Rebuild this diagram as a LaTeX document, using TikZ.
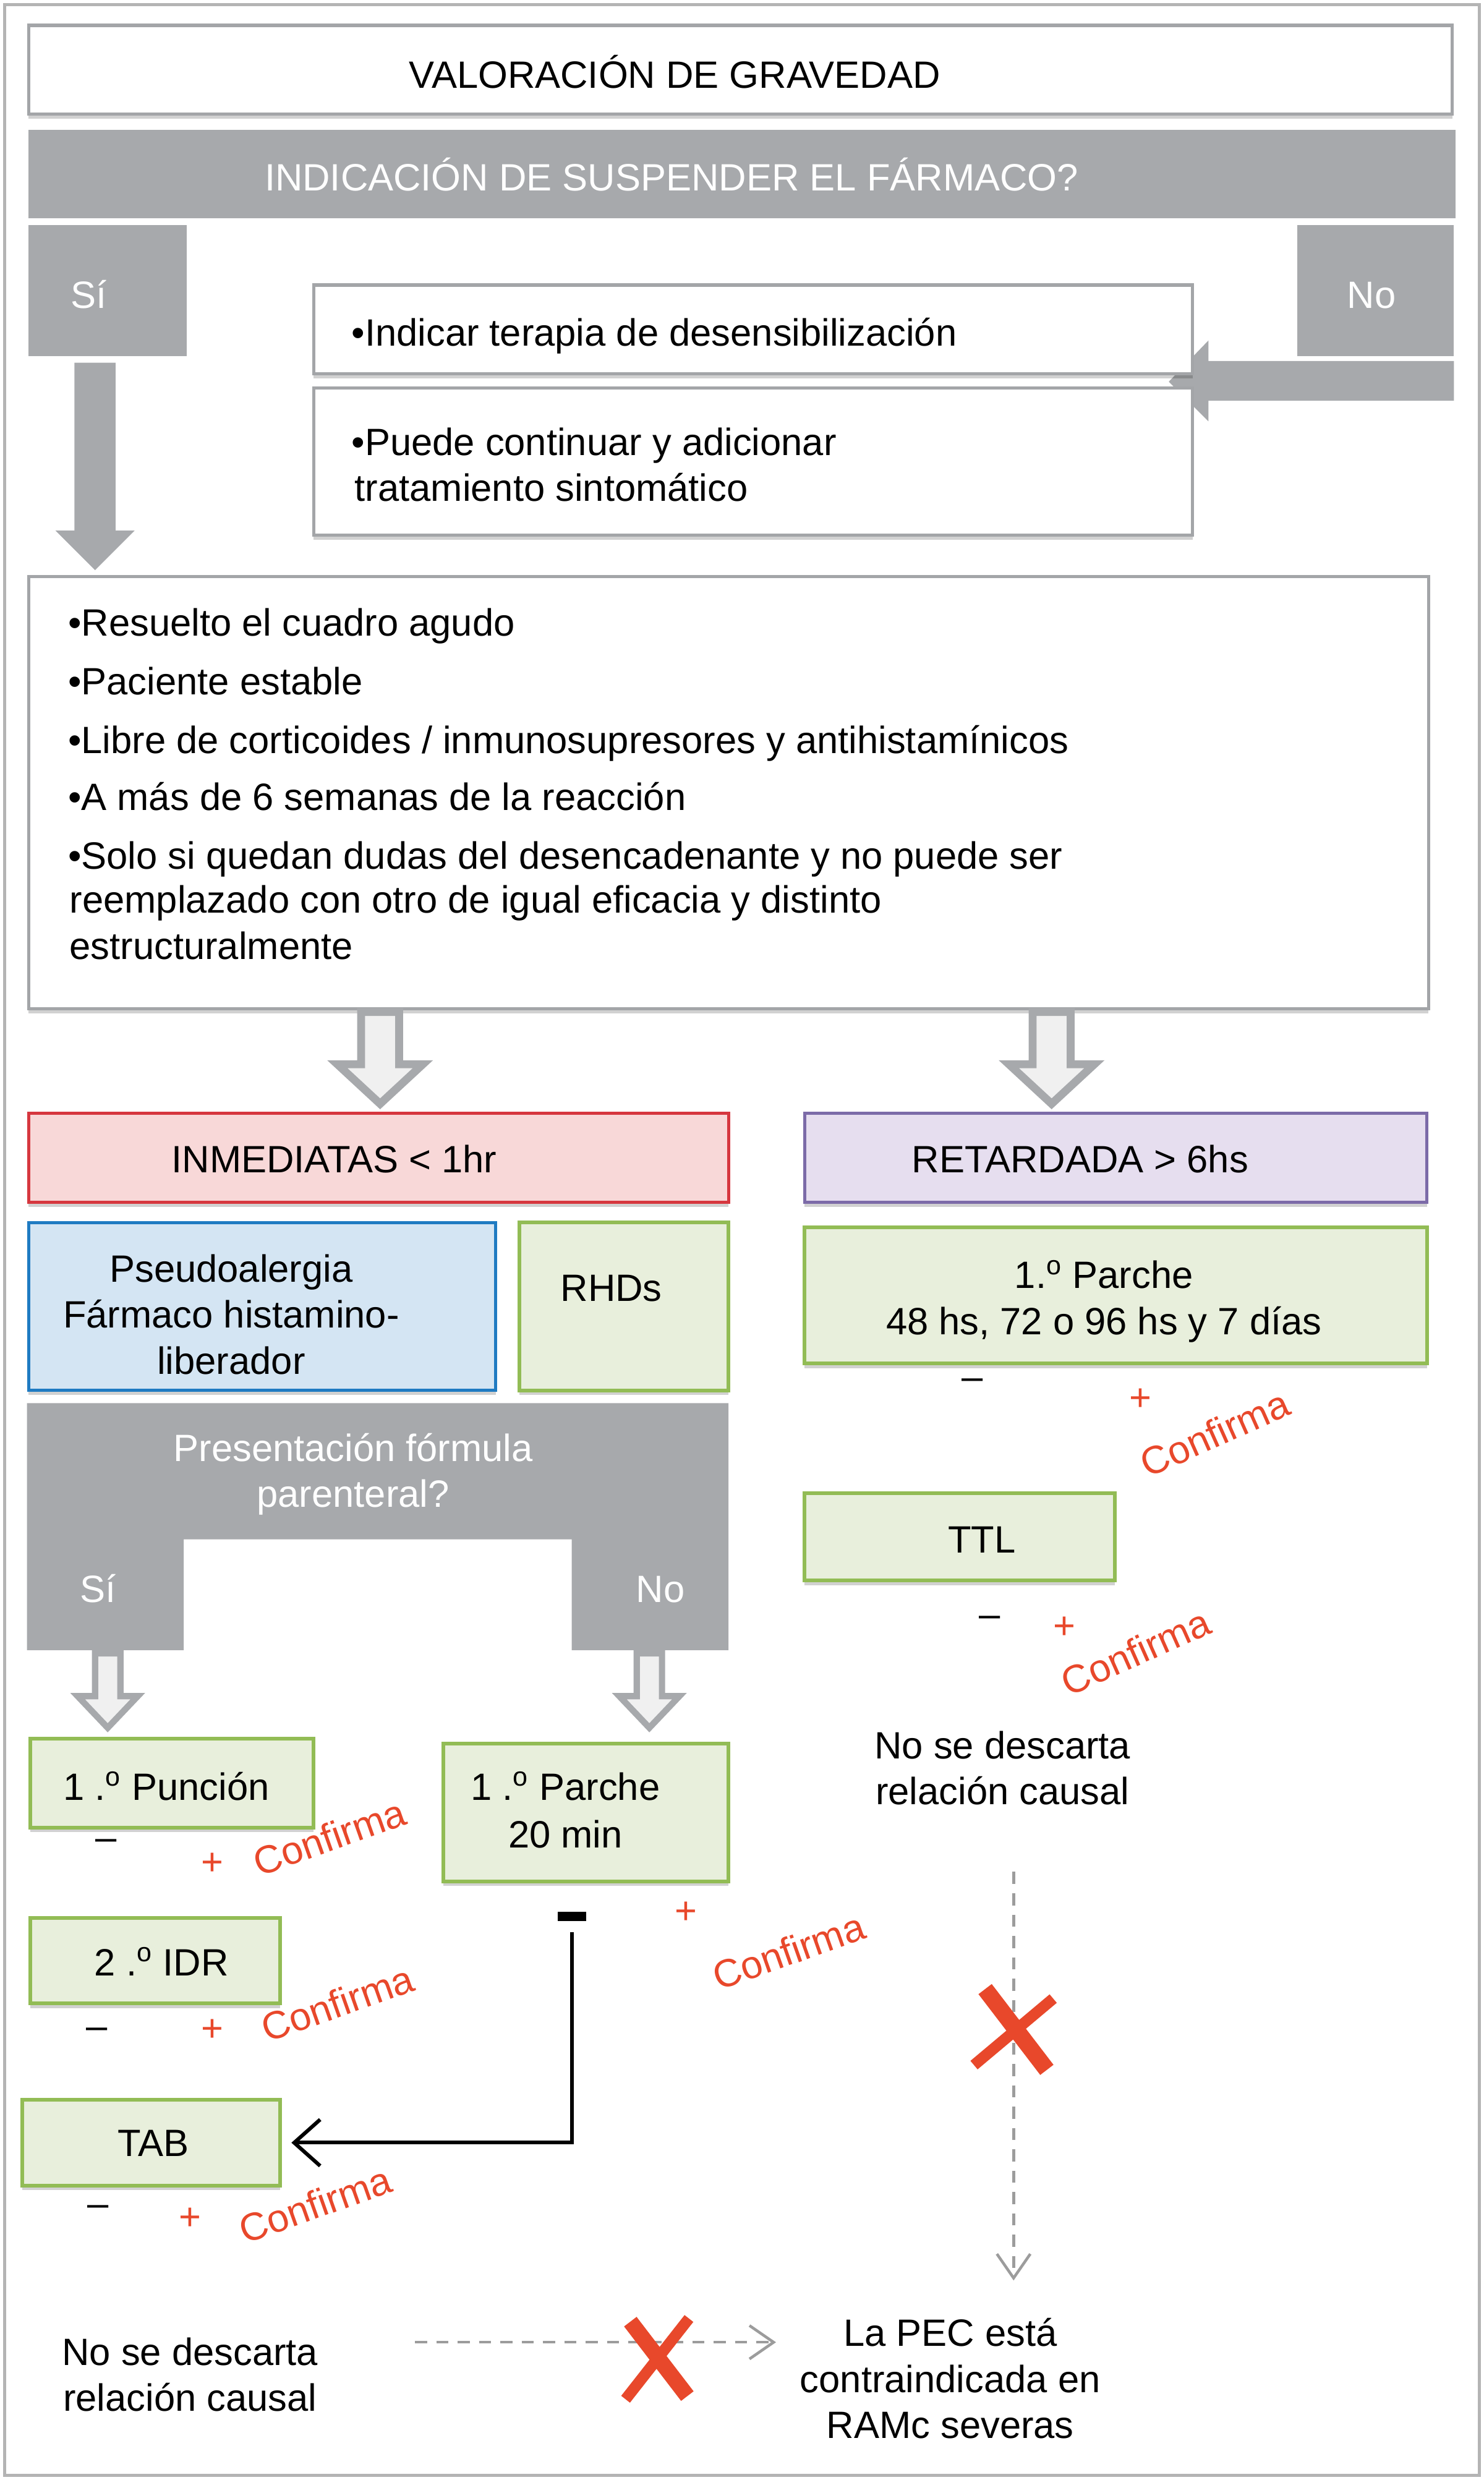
\documentclass[tikz,border=0pt]{standalone}
\usepackage{fontspec}
\setmainfont{Liberation Sans}
\usetikzlibrary{arrows.meta,shadows}
\definecolor{gbar}{HTML}{A7A9AC}
\definecolor{bordg}{HTML}{A3A5A8}
\definecolor{frameg}{HTML}{B4B4B4}
\definecolor{pinkf}{HTML}{F8D8D8}
\definecolor{pinkb}{HTML}{D6373F}
\definecolor{lavf}{HTML}{E6DEEF}
\definecolor{lavb}{HTML}{7C6BA8}
\definecolor{bluef}{HTML}{D4E5F3}
\definecolor{blueb}{HTML}{1F7BC2}
\definecolor{grf}{HTML}{E8EFDC}
\definecolor{grb}{HTML}{92BC55}
\definecolor{redt}{HTML}{E8482B}
\definecolor{harf}{HTML}{F0F0F0}
\definecolor{dashg}{HTML}{9C9C9C}
\newcommand\fA{\fontsize{20.5pt}{24.75pt}\selectfont}
\newcommand\fB{\fontsize{21pt}{25pt}\selectfont}
\newcommand\ordo{\textsuperscript{o}}
\newcommand\bx[7]{%
  \pgfmathsetmacro\bxw{(#4-#2)*0.03}%
  \pgfmathsetmacro\bxh{(#5-#3)*0.03}%
  \node[#6, minimum width=\bxw cm, minimum height=\bxh cm] (#1) at ({(#2+#4)/2},{(#3+#5)/2}) {#7};}
% cx, ytop, ysolid, yhead, ytip, shafthalf, headhalf, style
\newcommand\harrow[8]{%
  \fill[gbar] ({#1-#6},#2) rectangle ({#1+#6},#3);
  \draw[#8] ({#1-#6},#2) -- ({#1+#6},#2) -- ({#1+#6},#4) -- ({#1+#7},#4) -- (#1,#5) -- ({#1-#7},#4) -- ({#1-#6},#4) -- cycle;}
\begin{document}
\begin{tikzpicture}[x=0.03cm,y=-0.03cm,
  every node/.style={inner sep=0pt,outer sep=0pt},
  shd/.style={drop shadow={shadow xshift=0pt,shadow yshift=-2.5pt,opacity=0.18,fill=black}},
  wbox/.style={draw=bordg,line width=1.7pt,fill=white,shd},
  gbox/.style={fill=gbar},
  pinkbox/.style={draw=pinkb,fill=pinkf,line width=1.7pt,shd},
  lavbox/.style={draw=lavb,fill=lavf,line width=1.7pt,shd},
  bluebox/.style={draw=blueb,fill=bluef,line width=1.7pt,shd},
  greenbox/.style={draw=grb,fill=grf,line width=2pt,shd},
  txt/.style={font=\fA,text height=14.7pt,text depth=0pt},
  wtxt/.style={txt,text=white},
  conf/.style={font=\fB,text=redt,rotate=19.5},
  plus/.style={font=\fA,text=redt},
  minus/.style={font=\fA,text=black},
  harrbig/.style={draw=gbar,line width=4.3pt,fill=harf,line join=miter},
  harrsmall/.style={draw=gbar,line width=3.4pt,fill=harf,line join=miter},
  conn/.style={draw=black,line width=2pt,-{Straight Barb[length=14pt,width=25pt,line width=2pt]}},
  dsh/.style={draw=dashg,line width=1.5pt,dash pattern=on 6.5pt off 5pt,-{Straight Barb[length=13pt,width=18pt,line width=1.5pt]}},
  redx/.style={draw=redt,line cap=butt}
]
\useasboundingbox (0,0) rectangle (937,1566);
\draw[frameg,line width=1.5pt] (3,3) rectangle (934,1563);

% top
\bx{val}{18}{16}{917}{72}{wbox}{}
\node[txt] (tval) at (426,47) {VALORACIÓN DE GRAVEDAD};
\bx{ind}{18}{82}{919}{138}{gbox}{}
\node[wtxt] (tind) at (424,112) {INDICACIÓN DE SUSPENDER EL FÁRMACO?};
\bx{si}{18}{142}{118}{225}{gbox}{}
\node[wtxt] (tsi) at (56,186) {Sí};
\bx{no}{819}{142}{918}{225}{gbox}{}
\node[wtxt] (tno) at (866,186) {No};

% solid arrows
\fill[gbar] (47,229) -- (73,229) -- (73,335) -- (85,335) -- (60,360) -- (35,335) -- (47,335) -- cycle;
\fill[gbar] (918,228) -- (763,228) -- (763,215) -- (738,241) -- (763,266) -- (763,253) -- (918,253) -- cycle;

\bx{indicar}{198}{180}{753}{236}{wbox}{}
\node[txt,anchor=west] (tindicar) at (222,210) {•Indicar terapia de desensibilización};
\bx{puede}{198}{245}{753}{338}{wbox}{}
\node[txt,anchor=west] (tpuede1) at (222,279) {•Puede continuar y adicionar};
\node[txt,anchor=west] (tpuede2) at (224,308) {tratamiento sintomático};

% big box
\bx{big}{18}{364}{902}{637}{wbox}{}
\node[txt,anchor=west] (b1) at (43,393) {•Resuelto el cuadro agudo};
\node[txt,anchor=west] (b2) at (43,430) {•Paciente estable};
\node[txt,anchor=west] (b3) at (43,467) {•Libre de corticoides / inmunosupresores y antihistamínicos};
\node[txt,anchor=west] (b4) at (43,503) {•A más de 6 semanas de la reacción};
\node[txt,anchor=west] (b5) at (43,540) {•Solo si quedan dudas del desencadenante y no puede ser};
\node[txt,anchor=west] (b6) at (44,568) {reemplazado con otro de igual eficacia y distinto};
\node[txt,anchor=west] (b7) at (44,597) {estructuralmente};

% hollow arrows
\harrow{240}{639}{653}{672}{697}{12}{27}{harrbig}
\harrow{664}{639}{653}{672}{697}{12}{27}{harrbig}

% categories
\bx{inm}{18}{703}{460}{759}{pinkbox}{}
\node[txt] (tinm) at (211,732) {INMEDIATAS < 1hr};
\bx{ret}{508}{703}{901}{759}{lavbox}{}
\node[txt] (tret) at (682,732) {RETARDADA > 6hs};

\bx{pse}{18}{772}{313}{878}{bluebox}{}
\node[txt] (tpse1) at (146,801) {Pseudoalergia};
\node[txt] (tpse2) at (146,830) {Fármaco histamino-};
\node[txt] (tpse3) at (146,859) {liberador};
\bx{rhd}{328}{772}{460}{878}{greenbox}{}
\node[txt] (trhd) at (386,813) {RHDs};

\bx{par1}{508}{775}{901}{861}{greenbox}{}
\node[txt] (tpar1a) at (697,805) {1.\ordo{} Parche};
\node[txt] (tpar1b) at (697,834) {48 hs, 72 o 96 hs y 7 días};

% presentation shape
\fill[gbar] (17,886) -- (460,886) -- (460,1042) -- (361,1042) -- (361,972) -- (116,972) -- (116,1042) -- (17,1042) -- cycle;
\node[wtxt] (tpres1) at (223,914) {Presentación fórmula};
\node[wtxt] (tpres2) at (223,943) {parenteral?};
\node[wtxt] (tsi2) at (62,1003) {Sí};
\node[wtxt] (tno2) at (417,1003) {No};

\harrow{68}{1044}{1052}{1071}{1091}{8}{19}{harrsmall}
\harrow{410}{1044}{1052}{1071}{1091}{8}{19}{harrsmall}

% left column
\bx{pun}{19}{1098}{198}{1154}{greenbox}{}
\node[txt] (tpun) at (105,1128) {1 .\ordo{} Punción};
\node[minus] (mpun) at (67,1165) {–};
\node[plus] (ppun) at (134,1177) {+};
\node[conf] (cpun) at (208,1160) {Confirma};

\bx{par20}{280}{1101}{460}{1188}{greenbox}{}
\node[txt] (tpar20a) at (357,1128) {1 .\ordo{} Parche};
\node[txt] (tpar20b) at (357,1158) {20 min};
\node[plus] (ppar20) at (433,1208) {+};
\node[conf] (cpar20) at (498,1232) {Confirma};
\bx{pmin}{352}{1207}{370}{1213}{fill=black}{}

\bx{idr}{19}{1211}{177}{1265}{greenbox}{}
\node[txt] (tidr) at (102,1239) {2 .\ordo{} IDR};
\node[minus] (midr) at (61,1284) {–};
\node[plus] (pidr) at (134,1282) {+};
\node[conf] (cidr) at (213,1265) {Confirma};

\bx{tab}{14}{1326}{177}{1380}{greenbox}{}
\node[txt] (ttab) at (97,1353) {TAB};
\node[minus] (mtab) at (62,1396) {–};
\node[plus] (ptab) at (120,1401) {+};
\node[conf] (ctab) at (199,1392) {Confirma};

\draw[conn,shorten <=0.21cm,shorten >=0.21cm] (pmin.south) |- (tab.east);

% right column
\node[minus] (mpar1) at (614,874) {–};
\node[plus] (ppar1) at (720,884) {+};
\node[conf,rotate=4.5] (cpar1) at (767,905) {Confirma};

\bx{ttl}{508}{943}{704}{998}{greenbox}{}
\node[txt] (tttl) at (620,972) {TTL};
\node[minus] (mttl) at (625,1024) {–};
\node[plus] (pttl) at (672,1028) {+};
\node[conf,rotate=4.5] (cttl) at (717,1043) {Confirma};

\node[txt] (ncr1) at (633,1102) {No se descarta};
\node[txt] (ncr2) at (633,1131) {relación causal};

\coordinate (dv1) at (640,1182);
\coordinate (dv2) at (640,1440);
\draw[dsh] (dv1) -- (dv2);
\draw[redx,line width=9pt] (622,1256) -- (661,1307);
\draw[redx,line width=6pt] (665,1262) -- (615,1304);

\node[txt] (pec1) at (600,1473) {La PEC está};
\node[txt] (pec2) at (600,1502) {contraindicada en};
\node[txt] (pec3) at (600,1531) {RAMc severas};

\node[txt] (ncl1) at (120,1485) {No se descarta};
\node[txt] (ncl2) at (120,1514) {relación causal};

\coordinate (dh1) at (262,1479);
\coordinate (dh2) at (490,1479);
\draw[dsh] (dh1) -- (dh2);
\draw[redx,line width=8.5pt] (398,1466) -- (434,1513);
\draw[redx,line width=6pt] (435,1464) -- (395,1515);
\end{tikzpicture}
\end{document}
